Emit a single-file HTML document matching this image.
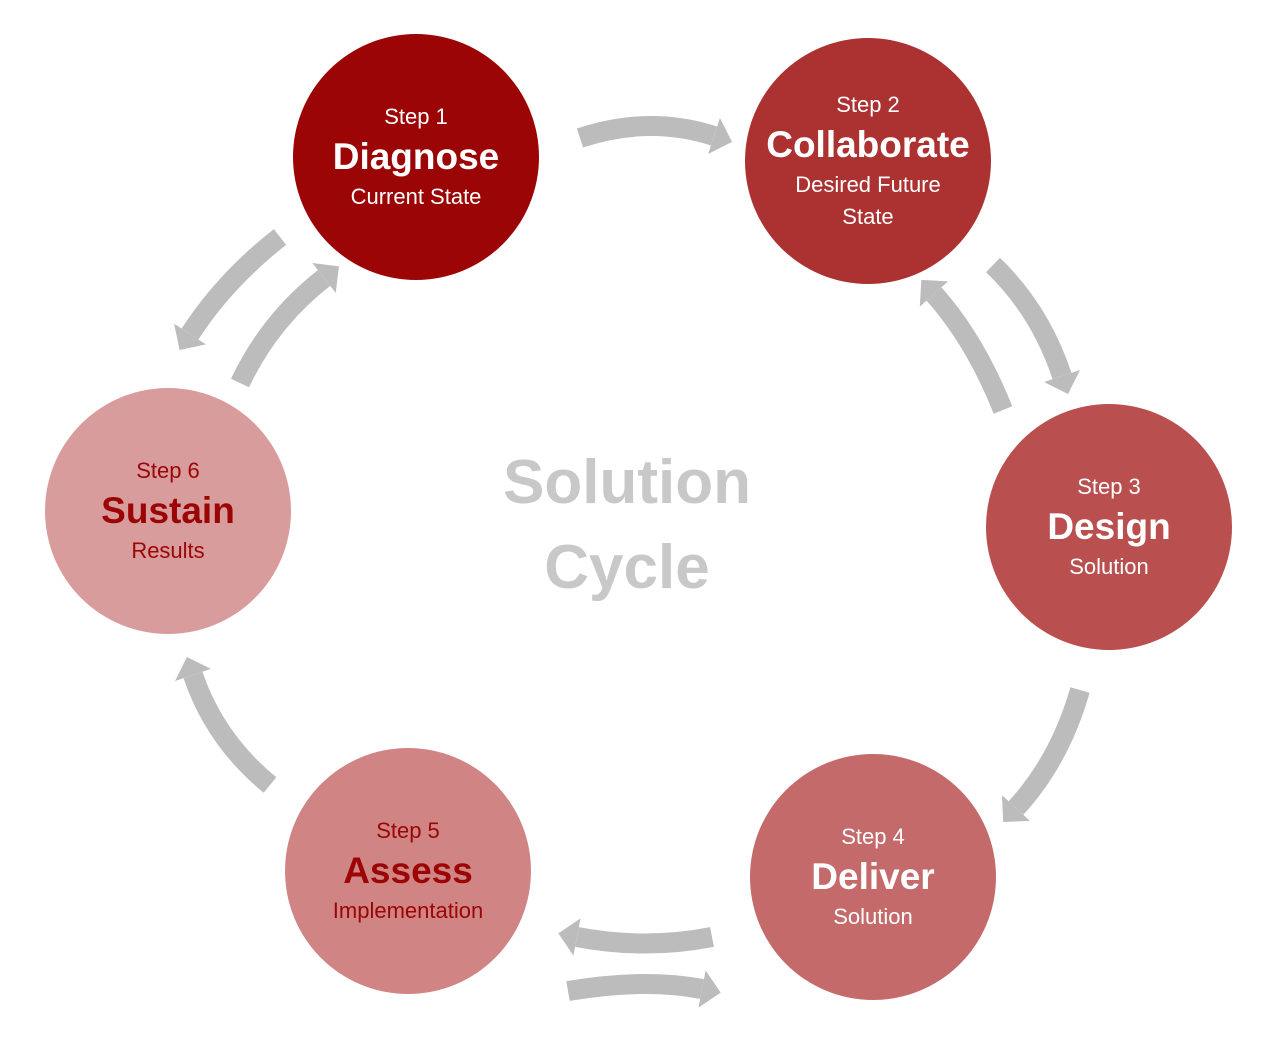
<!DOCTYPE html>
<html><head><style>
body{margin:0;background:#fff;width:1275px;height:1050px;overflow:hidden;font-family:"Liberation Sans",sans-serif}
.c{position:absolute;width:246px;height:246px;border-radius:50%;display:flex;flex-direction:column;align-items:center;justify-content:center;text-align:center;color:#fff}
.s{font-size:22px;line-height:32px}
.t{font-size:37px;font-weight:bold;line-height:48px}
.d{font-size:22px;line-height:32px}
.dk{color:#9b0505}
</style></head><body>
<svg width="1275" height="1050" style="position:absolute;left:0;top:0">
<defs><marker id="h" markerUnits="userSpaceOnUse" markerWidth="44" markerHeight="44" refX="0" refY="22" orient="auto" viewBox="0 0 44 44"><path d="M0,3 L19,22 L0,41 Z" fill="#bcbcbc"/></marker></defs>
<g fill="none" stroke="#bcbcbc" stroke-width="20" marker-end="url(#h)">
<path d="M580,138 Q650,115 714,136"/>
<path d="M993,265 Q1040,310 1062,376"/>
<path d="M1003,410 Q975,340 934,294"/>
<path d="M1080,690 Q1060,760 1016,808"/>
<path d="M712,937 Q645,950 577,937"/>
<path d="M568,991 Q645,978 702,989"/>
<path d="M270,785 Q215,740 193,675"/>
<path d="M240,383 Q270,320 324,278"/>
<path d="M280,237 Q225,280 190,334"/>
</g>
<text x="627" y="503" text-anchor="middle" font-family="Liberation Sans" font-weight="bold" font-size="62" fill="#c8c8c8">Solution</text>
<text x="627" y="588" text-anchor="middle" font-family="Liberation Sans" font-weight="bold" font-size="62" fill="#c8c8c8">Cycle</text>
</svg>
<div class="c" style="left:293px;top:34px;background:#9b0505"><div class="s">Step 1</div><div class="t">Diagnose</div><div class="d">Current State</div></div>
<div class="c" style="left:745px;top:38px;background:#ac3232"><div class="s">Step 2</div><div class="t">Collaborate</div><div class="d">Desired Future<br>State</div></div>
<div class="c" style="left:986px;top:404px;background:#b94f4f"><div class="s">Step 3</div><div class="t">Design</div><div class="d">Solution</div></div>
<div class="c" style="left:750px;top:754px;background:#c46a6a"><div class="s">Step 4</div><div class="t">Deliver</div><div class="d">Solution</div></div>
<div class="c dk" style="left:285px;top:748px;background:#d08484"><div class="s">Step 5</div><div class="t">Assess</div><div class="d">Implementation</div></div>
<div class="c dk" style="left:45px;top:388px;background:#d99c9c"><div class="s">Step 6</div><div class="t">Sustain</div><div class="d">Results</div></div>
</body></html>
